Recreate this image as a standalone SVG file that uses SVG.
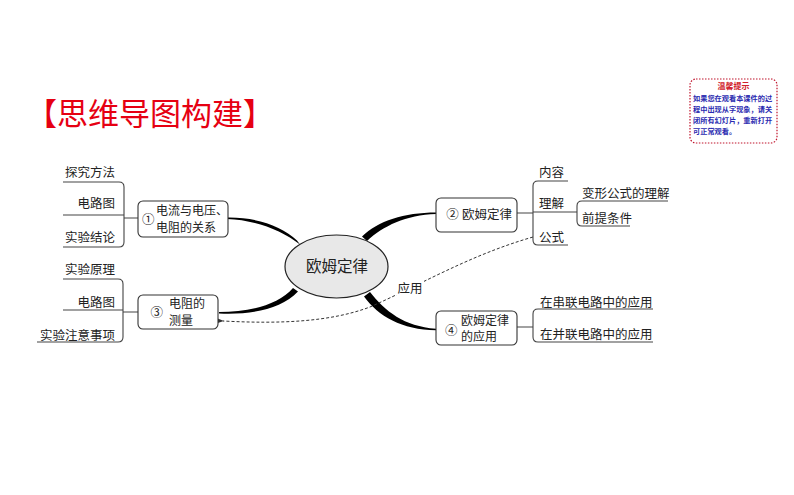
<svg xmlns="http://www.w3.org/2000/svg" width="794" height="495" viewBox="0 0 794 495">
<defs>
<style>
text{font-family:"Noto Sans CJK SC","Noto Sans",sans-serif;fill:#222}
.leaf{font-size:12.5px}
.nt{font-size:12.5px}
.n2{font-size:12px}
.box{fill:#fff;stroke:#333;stroke-width:1.1}
.ln{fill:none;stroke:#444;stroke-width:1.1}
.br{fill:#000;stroke:none}
.dash{fill:none;stroke:#333;stroke-width:1;stroke-dasharray:3 2}
.tip{font-size:7.2px;font-weight:bold;fill:#2a2ab0}
</style>
<marker id="arr" markerWidth="8" markerHeight="6" refX="1" refY="3" orient="auto-start-reverse" markerUnits="userSpaceOnUse">
<path d="M0,3 L7,0.5 L7,5.5 Z" fill="#333"/>
</marker>
</defs>
<rect width="794" height="495" fill="#fff"/>
<text x="26" y="125" style="font-size:31px;fill:#e60012">【思维导图构建】</text>
<g id="tip">
<rect x="690" y="79" width="87" height="64" rx="6" fill="#fff" stroke="#c0142c" stroke-width="1.2" stroke-dasharray="1.5 1.5"/>
<text x="733.5" y="89" text-anchor="middle" style="font-size:8px;font-weight:bold;fill:#d0202a">温馨提示</text>
<text class="tip" x="693" y="101">如果您在观看本课件的过</text>
<text class="tip" x="693" y="112">程中出现从字现象，请关</text>
<text class="tip" x="693" y="123">闭所有幻灯片，重新打开</text>
<text class="tip" x="693" y="134">可正常观看。</text>
</g>
<g id="connectors">
<path class="br" d="M227,217.5 C256,217 282,226 297,240.5 L300,244.5 C281,230 255,220 227,219 Z"/>
<path class="br" d="M219,312 C250,312 278,305 293,288 L298,291.5 C281,309 252,315 219,313.5 Z"/>
<path class="br" d="M362,236.5 C378,221 404,212.5 436,212.5 L436,214 C406,215 383,226 367,241 Z"/>
<path class="br" d="M364,296.5 C378,316 402,330 436,330.2 L436,328.7 C404,326.5 385,311 370,292 Z"/>
<path class="dash" d="M533,237 C470,255 420,285 370,307 C330,322 280,324 223,321" marker-end="url(#arr)"/>
<rect x="396" y="280" width="28" height="15" fill="#fff"/>
<text class="leaf" x="410" y="292.5" text-anchor="middle">应用</text>
<path class="ln" d="M63,182 H119 Q124,182 124,187 V242 Q124,247 119,247 H63 M63,215 H124 M124,218 H138"/>
<path class="ln" d="M63,279 H118 Q123,279 123,284 V337 Q123,342 118,342 H37 M63,310 H123 M123,312 H138"/>
<path class="ln" d="M568,181 H538 Q533,181 533,186 V240 Q533,245 538,245 H568 M533,212 H577 M517,213 H533"/>
<path class="ln" d="M668,201 H582 Q577,201 577,206 V221 Q577,226 582,226 H630"/>
<path class="ln" d="M653,309 H538 Q533,309 533,314 V337 Q533,342 538,342 H653 M517,327 H533"/>
</g>
<g id="center">
<ellipse cx="336.5" cy="266.5" rx="51.5" ry="31.5" fill="#e8e8e8" stroke="#222" stroke-width="1.2"/>
<text x="337" y="272" text-anchor="middle" style="font-size:15.5px">欧姆定律</text>
</g>
<g id="node1">
<rect class="box" x="138" y="201" width="90" height="36" rx="5"/>
<text class="nt" x="142" y="224">①</text>
<text class="n2"><tspan x="156" y="215">电流与电压、</tspan><tspan x="156" y="231.5">电阻的关系</tspan></text>
</g>
<g id="node1-leaves">
<text class="leaf" x="115" y="176.5" text-anchor="end">探究方法</text>
<text class="leaf" x="115" y="207.5" text-anchor="end">电路图</text>
<text class="leaf" x="115" y="241.5" text-anchor="end">实验结论</text>
</g>
<g id="node3">
<rect class="box" x="138" y="295" width="80" height="34" rx="5"/>
<text class="nt" x="150.5" y="316.5">③</text>
<text class="n2"><tspan x="169" y="308">电阻的</tspan><tspan x="169" y="324.5">测量</tspan></text>
</g>
<g id="node3-leaves">
<text class="leaf" x="115" y="273.5" text-anchor="end">实验原理</text>
<text class="leaf" x="115" y="306.5" text-anchor="end">电路图</text>
<text class="leaf" x="115" y="339.5" text-anchor="end">实验注意事项</text>
</g>
<g id="node2">
<rect class="box" x="436" y="198" width="81" height="34" rx="5"/>
<text class="nt" x="452.5" y="219" text-anchor="middle">②</text>
<text class="nt" x="462" y="219">欧姆定律</text>
</g>
<g id="node2-leaves">
<text class="leaf" x="539" y="176.5">内容</text>
<text class="leaf" x="539" y="207.5">理解</text>
<text class="leaf" x="539" y="241.5">公式</text>
<text class="leaf" x="582" y="197.5">变形公式的理解</text>
<text class="leaf" x="582" y="222.5">前提条件</text>
</g>
<g id="node4">
<rect class="box" x="436" y="311" width="81" height="34" rx="5"/>
<text class="nt" x="445" y="334.5">④</text>
<text class="n2"><tspan x="461" y="325">欧姆定律</tspan><tspan x="461" y="341">的应用</tspan></text>
</g>
<g id="node4-leaves">
<text class="leaf" x="540" y="306.5">在串联电路中的应用</text>
<text class="leaf" x="540" y="338.5">在并联电路中的应用</text>
</g>
</svg>
